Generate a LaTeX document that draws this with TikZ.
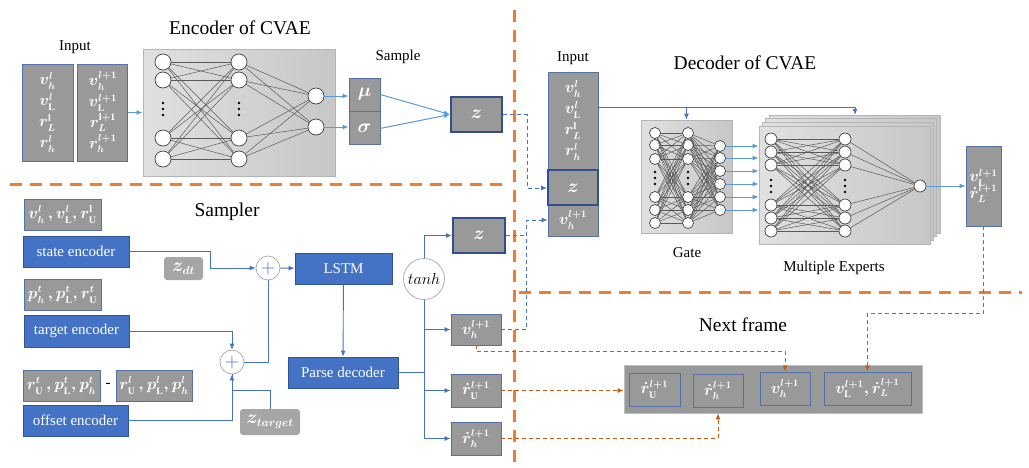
\RequirePackage{fix-cm}
\documentclass[tikz,border=0pt]{standalone}
\usepackage{fontspec}
\setmainfont{Liberation Serif}
\usepackage{amsmath}
\usepackage{bm}
\usetikzlibrary{positioning, arrows.meta}
\DeclareMathSizes{19}{19}{11.5}{8}
\DeclareMathSizes{16}{16}{10}{7}

\definecolor{boxgray}{HTML}{999999}
\definecolor{boxedge}{HTML}{5472A8}
\definecolor{zedge}{HTML}{2F4F8F}
\definecolor{encblue}{HTML}{4472C4}
\definecolor{encedge}{HTML}{2F5597}
\definecolor{lineblue}{HTML}{5B9BD5}
\definecolor{divorange}{HTML}{ED7D31}
\definecolor{linkorange}{HTML}{C55A11}
\definecolor{paneledge}{HTML}{B5B5B5}
\definecolor{softgray}{HTML}{A6A6A6}

\begin{document}
\begin{tikzpicture}[x=1pt, y=-1pt, >={Latex[length=6pt,width=5pt]},
  every node/.style={inner sep=0pt},
  title/.style={font=\fontsize{19.5}{22}\selectfont},
  caption/.style={font=\fontsize{15}{17}\selectfont},
  gbox/.style={draw=boxedge, fill=boxgray, text=white, line width=0.9pt, align=center, font=\fontsize{16}{21}\selectfont\boldmath},
  bigbox/.style={gbox, font=\fontsize{19}{21}\selectfont\boldmath},
  zbox/.style={bigbox, draw=zedge, line width=2pt},
  sbox/.style={bigbox, draw=none, fill=softgray, rounded corners=3pt},
  ebox/.style={draw=encedge, fill=encblue, text=white, line width=0.9pt, font=\fontsize{15}{17}\selectfont},
  panel/.style={draw=paneledge, line width=0.8pt, left color=black!12, right color=black!22},
  neuron/.style={circle, draw=black!75, fill=white, line width=0.7pt},
  wire/.style={draw=black!65, line width=0.5pt},
  op/.style={circle, draw=black!35, fill=white, line width=0.7pt, minimum size=24pt},
  flow/.style={draw=lineblue, line width=1pt, ->},
  sflow/.style={draw=encblue, line width=0.9pt},
  dflow/.style={draw=encblue, line width=0.8pt, dash pattern=on 4pt off 3pt},
  oflow/.style={draw=linkorange, line width=0.9pt, dash pattern=on 4pt off 3pt},
  divider/.style={draw=divorange, line width=3pt, dash pattern=on 12pt off 8pt}]

\useasboundingbox (0,0) rectangle (1029,467);

% dividers
\draw[divider] (514,10) -- (514,462);
\draw[divider] (10,184) -- (510,184);
\draw[divider] (519,292) -- (1022,292);

% encoder of CVAE
\node[title] (enctitle) at (240,28) {Encoder of CVAE};
\node[caption] (inlabel) at (75,47) {Input};
\node[gbox, minimum width=51pt, minimum height=97pt] (in1) at (47.5,112.5)
  {$v_h^{l}$\\$v_{\mathrm{L}}^{l}$\\$r_L^{\mathrm{l}}$\\$r_h^{l}$};
\node[gbox, minimum width=50pt, minimum height=97pt, right=4pt of in1] (in2)
  {$v_h^{l+1}$\\$v_{\mathrm{L}}^{l+1}$\\$r_L^{\mathrm{l+1}}$\\$r_h^{l+1}$};
\node[panel, minimum width=192pt, minimum height=127pt] (encpanel) at (239,112.5) {};
\draw[flow] (in2) -- (encpanel);

\foreach \y [count=\i] in {62,80,138,159} {
  \node[neuron, minimum size=16pt] (ea\i) at (163,\y) {};
  \node[neuron, minimum size=16pt] (eb\i) at (239,\y) {};
}
\node[neuron, minimum size=16pt] (ec1) at (316,96) {};
\node[neuron, minimum size=16pt] (ec2) at (316,127) {};
\foreach \i in {1,...,4} {
  \foreach \j in {1,...,4} \draw[wire] (ea\i) -- (eb\j);
  \foreach \j in {1,2} \draw[wire] (eb\i) -- (ec\j);
}
\foreach \x in {163,239} \foreach \d in {-6,0,6} \fill (\x,109+\d) circle (1.4pt);

\node[caption] (samplelabel) at (398,57) {Sample};
\node[bigbox, minimum width=31pt, minimum height=33pt] (mu) at (364.5,94.5) {$\mu$};
\node[bigbox, minimum width=31pt, minimum height=33pt, below=0pt of mu] (sigma) {$\sigma$};
\draw[flow] (ec1) -- (ec1 -| mu.west);
\draw[flow] (ec2) -- (ec2 -| sigma.west);
\node[zbox, minimum width=51pt, minimum height=35pt] (zenc) at (476.5,114.5) {$z$};
\draw[flow] (mu.east) -- (zenc.west);
\draw[flow] (sigma.east) -- (zenc.west);

% decoder of CVAE
\node[title] (dectitle) at (745,63) {Decoder of CVAE};
\node[caption] (decinlabel) at (573,58) {Input};
\node[gbox, minimum width=50pt, minimum height=97pt] (decin) at (573,120.5)
  {$v_h^{l}$\\$v_{\mathrm{L}}^{l}$\\$r_L^{\mathrm{l}}$\\$r_h^{l}$};
\node[gbox, minimum width=50pt, minimum height=32pt] (decv) at (573,220) {$v_h^{l+1}$};
\node[zbox, minimum width=50pt, minimum height=35pt, below=0pt of decin] (decz) {$z$};

\node[panel, minimum width=91pt, minimum height=113pt] (gatepanel) at (686.5,176.5) {};
\node[caption] (gatelabel) at (687,253) {Gate};
\foreach \y [count=\i] in {133,145,159,197,210,223} {
  \node[neuron, minimum size=11pt] (ga\i) at (655,\y) {};
  \node[neuron, minimum size=11pt] (gb\i) at (688,\y) {};
}
\foreach \y [count=\i] in {146,158,171,184,197,210}
  \node[neuron, minimum size=11pt] (gc\i) at (720,\y) {};
\foreach \i in {1,...,6} \foreach \j in {1,...,6} {
  \draw[wire] (ga\i) -- (gb\j);
  \draw[wire] (gb\i) -- (gc\j);
}
\foreach \x in {655,688} \foreach \d in {-6,0,6} \fill (\x,178+\d) circle (1.3pt);

\foreach \k in {3,2,1}
  \node[panel, minimum width=171pt, minimum height=118pt] (sheet\k) at (844.5+3.3*\k,185-3.6*\k) {};
\node[panel, minimum width=171pt, minimum height=118pt] (expfront) at (844.5,185) {};
\node[caption] (explabel) at (834,268) {Multiple Experts};
\foreach \y [count=\i] in {139,152,165,205,218,231} {
  \node[neuron, minimum size=12pt] (xa\i) at (771,\y) {};
  \node[neuron, minimum size=12pt] (xb\i) at (845,\y) {};
}
\node[neuron, minimum size=12pt] (xc) at (920,186) {};
\foreach \i in {1,...,6} {
  \foreach \j in {1,...,6} \draw[wire] (xa\i) -- (xb\j);
  \draw[wire] (xb\i) -- (xc);
}
\foreach \x in {771,845} \foreach \d in {-6,0,6} \fill (\x,186+\d) circle (1.3pt);
\foreach \i in {1,...,6} \draw[flow] (gc\i) -- (gc\i -| expfront.west);

\node[gbox, minimum width=35pt, minimum height=80pt] (out) at (983.5,186)
  {$v_{\mathrm{L}}^{l+1}$\\[-4pt]$\dot r_L^{l+1}$};
\draw[flow] (xc) -- (out.west);

\coordinate (busend) at (855,107);
\draw[sflow,->] (decin.east |- busend) -- (busend) -- (busend |- sheet3.north);
\draw[sflow,->] (gatepanel.north |- busend) -- (gatepanel.north);

% sampler
\node[title] (samptitle) at (227,212) {Sampler};
\node[gbox, minimum width=77pt, minimum height=31pt] (statein) at (62.5,214.5)
  {$v_h^{l}\,,v_{\mathrm{L}}^{l}, r_{\mathrm{U}}^{\mathrm{l}}$};
\node[ebox, minimum width=106pt, minimum height=31pt] (stateenc) at (76,251.5) {state encoder};
\node[gbox, minimum width=77pt, minimum height=31pt] (targetin) at (62.5,294.5)
  {$p_h^{t}\,,p_{\mathrm{L}}^{t}, r_{\mathrm{U}}^{t}$};
\node[ebox, minimum width=105pt, minimum height=32pt] (targetenc) at (76.5,331) {target encoder};
\node[gbox, minimum width=77pt, minimum height=31pt] (offsetin) at (61.5,385.5)
  {$r_{\mathrm{U}}^{t}\,,p_{\mathrm{L}}^{t}, p_h^{t}$};
\node[caption] (minus) at (108,385) {-};
\node[gbox, minimum width=76pt, minimum height=31pt] (offsetprev) at (154,385.5)
  {$r_{\mathrm{U}}^{l}\,,p_{\mathrm{L}}^{l}, p_h^{l}$};
\node[ebox, minimum width=105pt, minimum height=31pt] (offsetenc) at (75.5,420.5) {offset encoder};

\node[sbox, minimum width=39pt, minimum height=23pt] (zdt) at (183.5,268.5) {$z_{dt}$};
\node[sbox, minimum width=60pt, minimum height=26pt] (ztarget) at (270,422) {$z_{target}$};
\node[op] (plusa) at (268,268) {\color{encblue}\fontsize{20}{20}\selectfont$+$};
\node[op] (plusb) at (232,362) {\color{encblue}\fontsize{20}{20}\selectfont$+$};
\node[ebox, minimum width=97pt, minimum height=31pt] (lstm) at (343.5,268.5) {LSTM};
\node[ebox, minimum width=110pt, minimum height=31pt] (parse) at (343,372.5) {Parse decoder};

\draw[sflow,->] (stateenc.east) -- ++(81,0) |- (plusa.west);
\draw[sflow,->] (plusa) -- (lstm);
\draw[sflow,->] (targetenc.east) -| (plusb.north);
\draw[sflow] (plusb.east) -| (plusa.south);
\draw[sflow] (ztarget.north) -- ++(0,-18) -| (plusb.south);
\draw[sflow,->] (offsetenc.east) -| (plusb.south);
\draw[sflow,->] (lstm) -- (parse);

\node[zbox, minimum width=52pt, minimum height=35pt] (zsamp) at (479,235.5) {$z$};
\node[gbox, minimum width=50pt, minimum height=31pt] (vsamp) at (476,329.5) {$v_h^{l+1}$};
\node[gbox, minimum width=50pt, minimum height=33pt] (rusamp) at (476,390.5) {$\dot r_{\mathrm{U}}^{l+1}$};
\node[gbox, minimum width=50pt, minimum height=33pt] (rhsamp) at (476,438.5) {$\dot r_h^{l+1}$};

\node[op, minimum size=41pt, font=\fontsize{16}{18}\selectfont] (tanh) at (424,279) {$tanh$};
\coordinate (split) at (tanh |- parse.east);
\draw[sflow] (parse.east) -- (split) -- (tanh.south);
\draw[sflow,->] (tanh.north) |- (zsamp.west);
\draw[sflow,->] (split |- vsamp.west) -- (vsamp.west);
\draw[sflow,->] (split) |- (rusamp.west);
\draw[sflow,->] (split) |- (rhsamp.west);

\draw[dflow,->] (zenc.east) -- ++(24,0) |- (decz.west);
\draw[dflow] (zsamp.east) -- ++(21,0);
\draw[dflow,->] (vsamp.east) -- ++(25,0) |- (decv.west);

% next frame
\node[title] (nftitle) at (743,325) {Next frame};
\node[draw=black!25, fill=boxgray, line width=0.9pt, minimum width=298pt, minimum height=48pt] (nfbox) at (773,389) {};
\node[gbox, minimum width=51pt, minimum height=33pt] (nfru) at (654.5,389.5) {$\dot r_{\mathrm{U}}^{l+1}$};
\node[gbox, minimum width=50pt, minimum height=33pt] (nfrh) at (718,390.5) {$\dot r_h^{l+1}$};
\node[gbox, minimum width=50pt, minimum height=33pt] (nfv) at (785,388.5) {$v_h^{l+1}$};
\node[gbox, minimum width=87pt, minimum height=33pt] (nflat) at (867.5,388.5) {$v_{\mathrm{L}}^{l+1}, \dot r_L^{l+1}$};

\draw[oflow,->] (vsamp.south) -- ++(0,6) -| (nfv.north);
\draw[oflow,->] (rusamp.east) -- (rusamp.east -| nfbox.west);
\draw[oflow,->] (rhsamp.east) -| (nfrh |- nfbox.south);
\draw[oflow,->] (out.south) -- ++(0,87) -| (nflat.north);
\end{tikzpicture}
\end{document}
